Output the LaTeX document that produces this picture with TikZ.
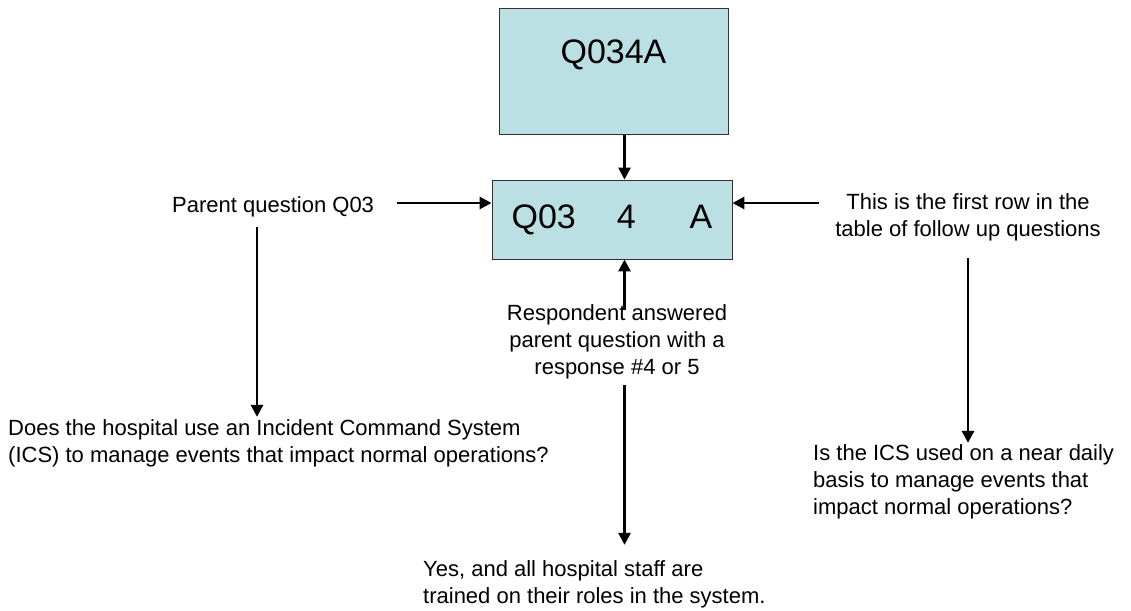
\documentclass[tikz,border=0pt]{standalone}
\usepackage{fontspec}
\setmainfont{Liberation Sans}
\usetikzlibrary{arrows.meta}
\definecolor{boxfill}{RGB}{187,224,227}
\definecolor{boxline}{RGB}{50,50,50}
\tikzset{
  qbox/.style={draw=boxline, line width=0.9pt, fill=boxfill, inner sep=0pt,
    font=\fontsize{34}{40}\selectfont},
  lbl/.style={inner sep=0pt, font=\fontsize{22}{27}\selectfont},
  arr/.style={line width=2.7pt, -{Triangle[width=12pt,length=12pt]}}
}
\begin{document}
\begin{tikzpicture}[x=1pt,y=-1pt]
\useasboundingbox (0,0) rectangle (1131,610);
% boxes
\node[qbox, anchor=north, minimum width=229pt, text height=55pt, text depth=71pt] (top) at (613.5,8) {Q034A};
\node[qbox, minimum width=240pt, minimum height=79pt] (mid) at (612,219.5) {Q03\hspace{41pt}4\hspace{54pt}A};
% texts (base anchor = baseline of the last line)
\node[lbl, anchor=base west] (parent) at (172,212) {Parent question Q03};
\node[lbl, anchor=base west, align=left] (ics) at (8,462) {Does the hospital use an Incident Command System\\(ICS) to manage events that impact normal operations?};
\node[lbl, anchor=base, align=center] (resp) at (617,374) {Respondent answered\\parent question with a\\response \#4 or 5};
\node[lbl, anchor=base west, align=left] (yes) at (423,603) {Yes, and all hospital staff are\\trained on their roles in the system.};
\node[lbl, anchor=base, align=center] (first) at (968,236) {This is the first row in the\\table of follow up questions};
\node[lbl, anchor=base west, align=left] (daily) at (813,514) {Is the ICS used on a near daily\\basis to manage events that\\impact normal operations?};
% guide coordinates
\coordinate (ax) at (624.5,0);
\coordinate (ay) at (0,203);
\coordinate (lx) at (257,0);
\coordinate (rx) at (968,0);
% connectors
\draw[arr] (top.south -| ax) -- (mid.north -| ax);
\draw[arr] ([xshift=23pt]parent.east |- ay) -- (mid.west |- ay);
\draw[arr] ([xshift=-16pt]first.west |- ay) -- (mid.east |- ay);
\draw[arr] ([yshift=-10pt]parent.south -| lx) -- ([yshift=2pt]ics.north -| lx);
\draw[arr] ([yshift=-6pt]resp.north -| ax) -- (mid.south -| ax);
\draw[arr] ([yshift=-6pt]resp.south -| ax) -- ([yshift=15pt]yes.north -| ax);
\draw[arr] ([yshift=-17pt]first.south -| rx) -- ([yshift=1pt]daily.north -| rx);
\end{tikzpicture}
\end{document}
